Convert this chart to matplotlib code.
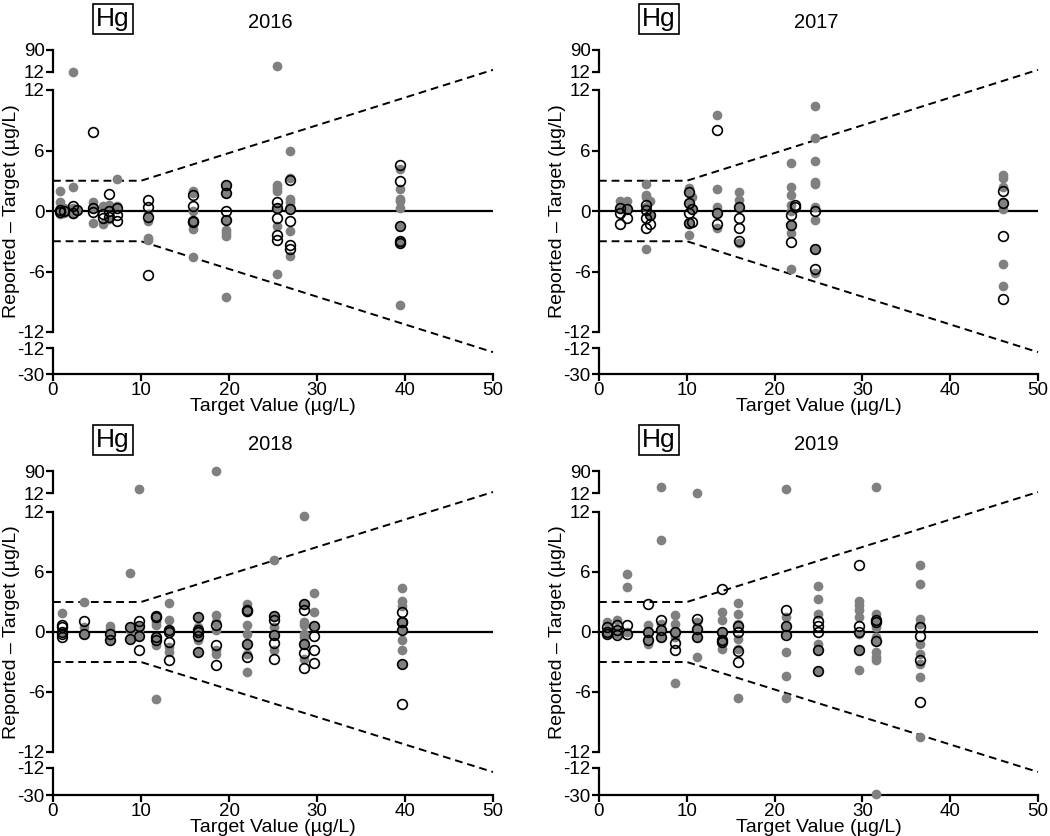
import matplotlib
matplotlib.use("Agg")
import matplotlib.pyplot as plt

plt.rcParams['font.family'] = ['Liberation Sans', 'DejaVu Sans']

# ---- data: target value (x) and reported - target (y), per year ----
# grey = filled points, open = hollow points
grey_2016_x = [0.8, 0.8, 0.8, 0.8, 1.3, 1.3, 2.3, 2.3, 2.3, 2.7, 4.5, 4.5, 4.5,
               5.7, 5.7, 6.4, 6.4, 7.3, 7.3, 10.8, 10.8, 10.8, 10.8,
               15.9, 15.9, 15.9, 15.9, 15.9, 15.9, 19.7, 19.7, 19.7, 19.7, 19.7,
               19.7, 19.7, 19.7, 25.5, 25.5, 25.5, 25.5, 25.5, 25.5,
               26.9, 26.9, 26.9, 26.9, 26.9, 26.9, 26.9, 39.4, 39.4, 39.4, 39.4,
               39.4, 39.4, 39.4, 39.4, 39.4, 25.5, 2.3]
grey_2016_y = [2.0, 0.9, 0.2, -0.3, 0.3, -0.2, 2.4, 0.3, -0.3, 0.0, 0.9, 0.3, -1.2,
               0.5, -1.3, 0.6, -0.8, 3.2, 0.5, -0.3, -1.0, -2.7, -2.9,
               2.0, 1.8, 0.0, -1.8, -1.2, -4.6, 2.6, 2.3, 1.8, -0.9, -1.9,
               -2.2, -2.5, -8.5, 2.6, 2.3, 2.0, 0.3, -1.5, -6.2,
               6.0, 3.3, 1.2, 0.9, 0.2, -2.0, -4.5, 4.2, 2.2, 1.2, 1.0,
               0.3, -1.5, -3.0, -3.2, -9.3, 34.0, 13.0]
open_2016_x = [0.8, 0.8, 1.3, 2.3, 2.3, 2.7, 4.5, 4.5, 4.5, 5.7, 5.7, 6.4, 6.4,
               6.4, 7.3, 7.3, 7.3, 10.8, 10.8, 10.8, 10.8, 15.9, 15.9, 15.9,
               15.9, 19.7, 19.7, 19.7, 19.7, 25.5, 25.5, 25.5, 25.5, 25.5,
               26.9, 26.9, 26.9, 26.9, 26.9, 39.4, 39.4, 39.4, 39.4, 39.4]
open_2016_y = [0.1, -0.1, 0.0, 0.5, -0.2, 0.1, 7.8, 0.3, -0.1, -0.3, -0.7, 1.7,
               0.0, -0.6, 0.3, -0.4, -1.0, 1.1, 0.4, -0.6, -6.3, 1.6, 0.5,
               -1.0, -1.1, 2.6, 1.8, 0.0, -0.9, 0.9, 0.3, -0.7, -2.4, -2.9,
               3.1, 0.2, -1.0, -3.4, -3.8, 4.6, 3.0, -1.5, -3.0, -3.2]

grey_2017_x = [2.4, 2.4, 3.2, 3.2, 5.4, 5.4, 5.4, 5.4, 5.4, 5.8, 5.8, 10.2, 10.2,
               10.2, 10.2, 10.2, 10.6, 10.6, 13.4, 13.4, 13.4, 13.4, 13.4, 16.0,
               16.0, 16.0, 16.0, 21.9, 21.9, 21.9, 21.9, 21.9, 21.9, 21.9, 21.9,
               24.6, 24.6, 24.6, 24.6, 24.6, 24.6, 24.6, 24.6, 24.6, 46.0, 46.0,
               46.0, 46.0, 46.0, 46.0, 46.0, 46.0]
grey_2017_y = [1.0, 0.2, 1.0, 0.3, 2.7, 1.6, 1.4, 0.4, -3.8, 1.0, -0.4, 2.3, 2.0,
               0.8, -1.3, -2.4, 1.4, 0.2, 9.5, 2.2, 0.4, -0.2, -1.7, 1.9, 1.1,
               0.4, -3.2, 4.8, 2.4, 1.6, 0.6, 0.0, -1.4, -2.2, -5.8,
               10.4, 7.2, 5.0, 2.9, 2.7, 0.4, -0.9, -3.8, -6.1, 3.6, 3.3,
               2.4, 0.8, 0.2, -5.3, -7.4, 0.9]
open_2017_x = [2.4, 2.4, 2.4, 3.2, 3.2, 5.4, 5.4, 5.4, 5.4, 5.8, 5.8, 10.2, 10.2,
               10.2, 10.2, 10.6, 10.6, 13.4, 13.4, 13.4, 16.0, 16.0, 16.0, 16.0,
               21.9, 21.9, 21.9, 22.3, 22.3, 24.6, 24.6, 24.6, 46.0, 46.0, 46.0,
               46.0]
open_2017_y = [0.3, -0.2, -1.3, 0.2, -0.7, 0.6, 0.1, -0.7, -1.7, -0.4, -1.3, 1.9,
               0.8, -0.2, -1.2, 0.2, -1.1, 8.0, -0.2, -1.3, 0.4, -0.7, -1.7,
               -3.0, -0.4, -1.4, -3.1, 0.6, 0.4, 0.0, -3.8, -5.8, 2.0, 0.8,
               -2.5, -8.7]

grey_2018_x = [1.0, 1.0, 3.5, 3.5, 3.5, 6.5, 6.5, 6.5, 6.5, 8.7, 8.7, 8.7, 8.7,
               9.8, 9.8, 9.8, 11.7, 11.7, 11.7, 11.7, 11.7, 11.7, 11.7, 11.7,
               13.2, 13.2, 13.2, 13.2, 13.2, 16.5, 16.5, 16.5, 16.5, 16.5, 18.5,
               18.5, 18.5, 18.5, 18.5, 22.0, 22.0, 22.0, 22.0, 22.0, 22.0, 22.0,
               22.0, 25.1, 25.1, 25.1, 25.1, 25.1, 28.5, 28.5, 28.5, 28.5, 28.5,
               28.5, 28.5, 28.5, 29.7, 29.7, 29.7, 39.7, 39.7, 39.7, 39.7, 39.7,
               39.7, 39.7, 39.7, 9.8, 18.5]
grey_2018_y = [1.9, 0.0, 3.0, 0.5, -0.2, 0.6, 0.3, -0.2, -0.8, 5.9, 0.5, -0.7, 0.2,
               0.5, -0.4, 0.2, 1.6, 1.5, 1.0, 0.7, -0.5, -0.8, -1.3, -6.7,
               2.9, 1.2, 0.2, -1.5, -2.0, 1.5, 0.5, -0.8, -2.0, 0.0, 1.7, 0.2,
               -2.2, -1.8, 90.0, 2.8, 2.2, 2.0, 0.7, -0.2, -1.2, -2.2, -4.0,
               7.2, 1.6, 0.5, -0.3, -1.8, 11.6, 2.8, 1.0, 0.7, -0.2, -1.2, -2.7,
               -0.5, 3.9, 2.0, 0.6, 4.4, 3.1, 1.0, 0.2, -0.8, -1.8, -3.2, 2.6,
               25.0, 1.0]
open_2018_x = [1.0, 1.0, 1.0, 1.0, 1.0, 3.5, 3.5, 6.5, 6.5, 8.7, 8.7, 9.8, 9.8,
               9.8, 9.8, 11.7, 11.7, 11.7, 11.7, 13.2, 13.2, 13.2, 13.2, 16.5,
               16.5, 16.5, 16.5, 16.5, 18.5, 18.5, 18.5, 22.0, 22.0, 22.0, 22.0,
               25.1, 25.1, 25.1, 25.1, 25.1, 28.5, 28.5, 28.5, 28.5, 28.5, 29.7,
               29.7, 29.7, 29.7, 39.7, 39.7, 39.7, 39.7, 39.7, 39.7]
open_2018_y = [0.7, 0.5, 0.0, -0.2, -0.5, 1.1, -0.2, -0.2, -0.8, 0.5, -0.7, 1.1,
               0.6, -0.4, -1.8, 1.6, 1.5, -0.5, -0.8, 0.2, 0.0, -1.0, -2.8, 1.5,
               0.2, 0.0, -0.4, -2.0, 0.7, -1.3, -3.3, 2.2, 2.1, -1.2, -2.5, 1.6,
               1.2, -0.3, -1.1, -2.7, 2.8, 2.2, -1.2, -2.1, -3.6, 0.6, -0.4,
               -1.8, -3.1, 2.0, 1.0, 0.2, -3.2, -7.2, 1.0]

grey_2019_x = [0.9, 0.9, 0.9, 2.0, 2.0, 2.0, 3.2, 3.2, 3.2, 5.6, 5.6, 5.6, 5.6,
               7.1, 7.1, 7.1, 7.1, 8.6, 8.6, 8.6, 8.6, 8.6, 11.2, 11.2, 11.2,
               11.2, 14.0, 14.0, 14.0, 14.0, 14.0, 15.8, 15.8, 15.8, 15.8, 15.8,
               15.8, 21.3, 21.3, 21.3, 21.3, 21.3, 21.3, 24.9, 24.9, 24.9, 24.9,
               24.9, 24.9, 29.6, 29.6, 29.6, 29.6, 29.6, 29.6, 29.6, 31.6, 31.6,
               31.6, 31.6, 31.6, 31.6, 31.6, 31.6, 36.6, 36.6, 36.6, 36.6, 36.6,
               36.6, 36.6, 36.6, 36.6, 7.1, 11.2, 21.3, 31.6, 31.6]
grey_2019_y = [1.0, 0.2, -0.2, 1.2, 0.2, -0.2, 5.8, 4.5, 0.0, 0.7, 0.0, -0.8,
               -1.2, 9.2, 0.2, -0.5, 0.8, 1.7, 0.8, -0.5, 0.0, -5.1, 1.0, 0.3,
               -0.5, -2.5, 2.0, 1.2, 0.0, -0.8, -1.7, 2.9, 1.8, 0.8, -0.7, -1.7,
               -6.6, 1.5, 0.6, -0.2, -2.0, -4.4, -6.6, 4.6, 3.3, 1.8, -1.2, -1.8,
               -3.9, 3.1, 2.7, 2.2, 1.5, -0.2, -1.8, -3.8, 1.8, 1.1, 0.5, -0.9,
               -2.0, -2.5, -2.8, -0.5, 6.7, 4.8, 1.3, -1.2, -2.2, -3.2, -4.5,
               -10.5, 0.8, 32.0, 13.0, 25.0, 34.0, -29.0]
open_2019_x = [0.9, 0.9, 0.9, 2.0, 2.0, 2.0, 3.2, 3.2, 5.6, 5.6, 5.6, 7.1, 7.1,
               7.1, 8.6, 8.6, 8.6, 11.2, 11.2, 11.2, 14.0, 14.0, 14.0, 14.0,
               15.8, 15.8, 15.8, 15.8, 21.3, 21.3, 21.3, 24.9, 24.9, 24.9, 24.9,
               24.9, 29.6, 29.6, 29.6, 29.6, 31.6, 31.6, 31.6, 36.6, 36.6, 36.6,
               36.6]
open_2019_y = [0.5, 0.0, -0.2, 0.7, 0.2, -0.3, 0.7, -0.2, 2.8, 0.0, -0.8, 1.2,
               0.2, -0.5, 0.0, -1.1, -1.8, 1.3, 0.3, -0.5, 4.3, 0.0, -0.8, -1.0,
               0.6, 0.0, -1.9, -3.0, 2.2, 0.6, -0.3, 1.1, 0.6, 0.0, -1.8, -3.9,
               6.7, 0.6, 0.0, -1.8, 1.2, 1.0, -0.9, 0.5, -0.4, -2.8, -7.0]

years = ['2016', '2017', '2018', '2019']
grey_x = [grey_2016_x, grey_2017_x, grey_2018_x, grey_2019_x]
grey_y = [grey_2016_y, grey_2017_y, grey_2018_y, grey_2019_y]
open_x = [open_2016_x, open_2017_x, open_2018_x, open_2019_x]
open_y = [open_2016_y, open_2017_y, open_2018_y, open_2019_y]

# acceptance limits: +-3 below 10 ug/L, widening above
limit_x = [0, 10, 50]
limit_y = [3, 3, 14]

# y segments of the broken axis: (low, high, ticks)
segments = [(12, 90, [12, 90]), (-12, 12, [-12, -6, 0, 6, 12]), (-30, -12, [-30, -12])]

W, H = 1050, 836
GREY = '#808080'


def fx(px):
    return px / W


def fy(py):
    return 1 - py / H


def draw_panel(fig, left_px, right_px, seg_px, year, gx, gy, ox, oy):
    """seg_px: list of (top, bottom) pixel rows for the three segments"""
    axes = []
    for (lo, hi, ticks), (t, b) in zip(segments, seg_px):
        ax = fig.add_axes([fx(left_px), fy(b), fx(right_px - left_px), (b - t) / H])
        ax.set_xlim(0, 50)
        ax.set_ylim(lo, hi)
        ax.set_yticks(ticks)
        ax.set_yticklabels([str(v) for v in ticks])
        for s in ['top', 'right']:
            ax.spines[s].set_visible(False)
        ax.spines['left'].set_linewidth(1.6)
        ax.spines['bottom'].set_linewidth(1.6)
        ax.tick_params(axis='both', direction='out', length=5, width=1.6,
                       labelsize=13.5, pad=1)
        ax.patch.set_alpha(0)
        axes.append(ax)
    top, mid, bot = axes
    for ax in (top, mid):
        ax.spines['bottom'].set_visible(False)
        ax.set_xticks([])
    bot.set_xticks([0, 10, 20, 30, 40, 50])

    # points, each drawn only in the segment holding its value
    for xs, ys, style in ((gx, gy, 'grey'), (ox, oy, 'open')):
        for x, y in zip(xs, ys):
            if y > 12:
                ax = top
            elif y < -12:
                ax = bot
            else:
                ax = mid
            if style == 'grey':
                ax.plot(x, y, 'o', ms=7, mfc=GREY, mec=GREY, mew=0, clip_on=False, zorder=3)
            else:
                ax.plot(x, y, 'o', ms=7, mfc='none', mec='black', mew=1.2,
                        clip_on=False, zorder=4)

    mid.plot([0, 50], [0, 0], color='black', lw=1.6, zorder=2)
    mid.plot(limit_x, limit_y, '--', color='black', lw=1.4, dashes=(4, 2.5), clip_on=False)
    mid.plot(limit_x, [-v for v in limit_y], '--', color='black', lw=1.4, dashes=(4, 2.5),
             clip_on=False)
    return axes


fig = plt.figure(figsize=(10.5, 8.36), dpi=100)

rows = [[(50, 72), (90, 332), (348, 374)],
        [(471, 493), (512, 752), (768, 795)]]
cols = [(53, 493), (599, 1038)]

for i, year in enumerate(years):
    r, c = divmod(i, 2)
    left_px, right_px = cols[c]
    seg = rows[r]
    draw_panel(fig, left_px, right_px, seg, year, grey_x[i], grey_y[i], open_x[i], open_y[i])
    off = 421 * r
    fig.text(fx(left_px + 60), fy(19 + off), 'Hg', fontsize=19, ha='center', va='center',
             bbox=dict(boxstyle='square,pad=0.12', fc='white', ec='black', lw=1.2))
    fig.text(fx(left_px + 217), fy(23 + off), year, fontsize=14.5, ha='center', va='center')
    fig.text(fx(left_px - 41), fy((seg[1][0] + seg[1][1]) / 2), 'Reported \u2013 Target (\u00b5g/L)',
             fontsize=14, rotation=90, ha='center', va='center')
    fig.text(fx((left_px + right_px) / 2), fy(seg[2][1] + 32), 'Target Value (\u00b5g/L)',
             fontsize=14, ha='center', va='center')

fig.savefig('out.png', dpi=100)
